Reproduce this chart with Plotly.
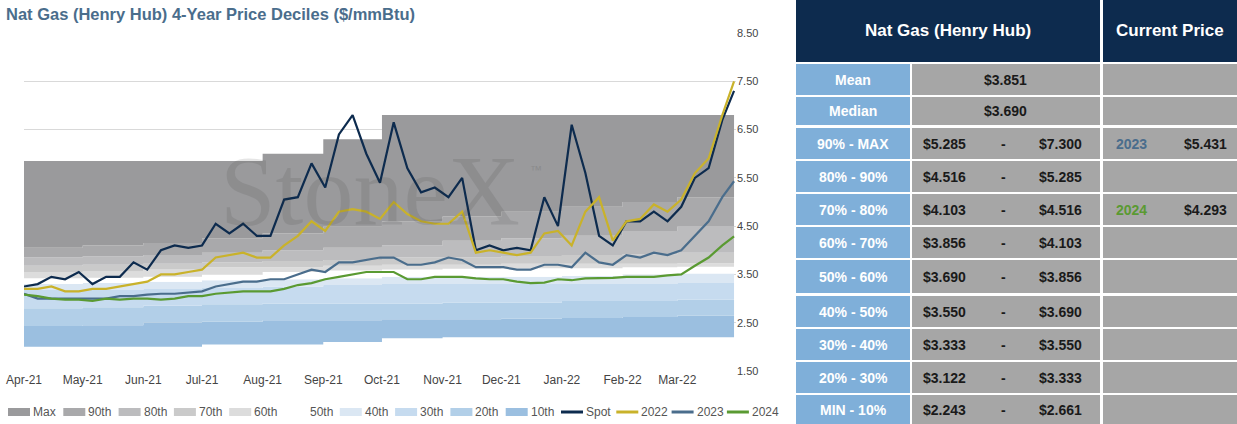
import plotly.graph_objects as go
import pandas as pd

W, H = 1237, 424
weeks = pd.date_range("2021-04-01", periods=52, freq="7D").tolist() + [pd.Timestamp("2022-03-30")]
spot = [3.25,3.3,3.45,3.4,3.55,3.3,3.45,3.45,3.75,3.6,4.0,4.1,4.05,4.1,4.55,4.35,4.55,4.3,4.3,5.05,5.1,5.8,5.3,6.4,6.8,6.0,5.4,6.65,5.7,5.2,5.3,5.1,5.5,4.0,4.1,4.0,4.05,4.0,5.1,4.5,6.6,5.6,4.3,4.1,4.6,4.6,4.8,4.6,4.9,5.5,5.7,6.7,7.3]
y2022 = [3.2,3.2,3.25,3.15,3.15,3.2,3.2,3.25,3.3,3.35,3.5,3.5,3.55,3.6,3.85,3.9,3.95,3.85,3.85,4.1,4.3,4.6,4.4,4.8,4.85,4.8,4.65,5.0,4.75,4.6,4.55,4.55,4.8,3.95,4.0,3.95,3.9,3.95,4.35,4.4,4.1,4.8,5.1,4.2,4.6,4.65,4.95,4.8,5.05,5.6,5.9,6.8,7.5]
y2023 = [3.1,3.0,3.0,3.0,3.0,3.0,3.0,3.05,3.05,3.08,3.1,3.1,3.12,3.15,3.25,3.3,3.35,3.35,3.4,3.4,3.5,3.6,3.55,3.75,3.75,3.8,3.85,3.85,3.7,3.7,3.75,3.85,3.8,3.65,3.65,3.65,3.6,3.6,3.7,3.7,3.65,3.95,3.75,3.7,3.9,3.85,3.95,3.9,4.0,4.3,4.6,5.1,5.43]
y2024 = [3.08,3.05,3.0,2.98,2.98,2.95,3.0,2.98,3.0,3.0,2.98,3.0,3.05,3.05,3.1,3.12,3.15,3.15,3.15,3.2,3.28,3.32,3.4,3.45,3.5,3.55,3.55,3.55,3.4,3.4,3.45,3.45,3.45,3.42,3.4,3.4,3.35,3.32,3.33,3.4,3.38,3.42,3.42,3.43,3.45,3.45,3.45,3.48,3.5,3.68,3.85,4.1,4.29]

band_dates = pd.date_range("2021-04-01", periods=12, freq="MS").tolist() + [pd.Timestamp("2022-03-30")]
b_min = [2.0,2.0,2.0,2.05,2.05,2.1,2.18,2.2,2.2,2.2,2.2,2.2,2.25]
b_p10 = [2.43,2.45,2.5,2.52,2.55,2.55,2.57,2.57,2.58,2.6,2.62,2.65,2.65]
b_p20 = [2.8,2.82,2.85,2.88,2.9,2.9,2.9,2.92,2.92,2.95,2.95,2.98,3.0]
b_p30 = [3.18,3.18,3.2,3.22,3.25,3.28,3.3,3.3,3.3,3.3,3.3,3.32,3.33]
b_p40 = [3.3,3.32,3.35,3.38,3.4,3.42,3.45,3.45,3.45,3.47,3.5,3.52,3.52]
b_p50 = [3.42,3.43,3.45,3.5,3.55,3.58,3.6,3.62,3.63,3.63,3.65,3.66,3.68]
b_p60 = [3.55,3.56,3.6,3.65,3.65,3.68,3.7,3.7,3.72,3.72,3.72,3.73,3.75]
b_p70 = [3.68,3.7,3.72,3.75,3.78,3.8,3.85,3.85,3.88,3.9,3.92,3.95,4.0]
b_p80 = [3.85,3.87,3.9,3.95,4.0,4.05,4.1,4.2,4.25,4.3,4.4,4.5,4.6]
b_p90 = [4.05,4.1,4.15,4.25,4.35,4.5,4.6,4.7,4.8,4.9,5.0,5.1,5.25]
b_max = [5.85,5.85,5.85,5.85,6.0,6.3,6.8,6.8,6.8,6.8,6.8,6.8,6.8]

bands = [("10th", b_p10, "#9bbfe0"), ("20th", b_p20, "#b2cfe8"), ("30th", b_p30, "#c6dbef"),
         ("40th", b_p40, "#dbe7f3"), ("50th", b_p50, "#ffffff"), ("60th", b_p60, "#dcdcdc"),
         ("70th", b_p70, "#cacaca"), ("80th", b_p80, "#bcbcbe"), ("90th", b_p90, "#a9a9ab"),
         ("Max", b_max, "#9a9a9c")]
series = [("Spot", spot, "#0d2b4e"), ("2022", y2022, "#c9b22a"), ("2023", y2023, "#4a6d8c"), ("2024", y2024, "#5a9a32")]

table_labels = ["Mean","Median","90% - MAX","80% - 90%","70% - 80%","60% - 70%","50% - 60%","40% - 50%","30% - 40%","20% - 30%","MIN - 10%"]
table_lo = ["$3.851","$3.690","$5.285","$4.516","$4.103","$3.856","$3.690","$3.550","$3.333","$3.122","$2.243"]
table_hi = [None,None,"$7.300","$5.285","$4.516","$4.103","$3.856","$3.690","$3.550","$3.333","$2.661"]
cur_year = {2: ("2023", "$5.431", "#4a6d8c"), 4: ("2024", "$4.293", "#5a9a32")}

fig = go.Figure()
fig.add_trace(go.Scatter(x=band_dates, y=b_min, mode="lines", line=dict(width=0, shape="hv"),
                         showlegend=False, hoverinfo="skip"))
for name, vals, col in bands:
    fig.add_trace(go.Scatter(x=band_dates, y=vals, name=name, mode="lines", fill="tonexty",
                             fillcolor=col, line=dict(width=0, shape="hv"), showlegend=False))
for name, vals, col in series:
    fig.add_trace(go.Scatter(x=weeks, y=vals, name=name, mode="lines", line=dict(color=col, width=2.2),
                             showlegend=False))

def px(x): return x / W
def py(y): return 1 - y / H

shapes, ann = [], []
shapes.append(dict(type="rect", xref="paper", yref="paper", x0=px(796), x1=px(1100), y0=py(62), y1=py(0),
                   fillcolor="#0d2b4e", line_width=0, layer="below"))
shapes.append(dict(type="rect", xref="paper", yref="paper", x0=px(1103), x1=px(1237), y0=py(62), y1=py(0),
                   fillcolor="#0d2b4e", line_width=0, layer="below"))
ann.append(dict(x=px(948), y=py(31), text="<b>Nat Gas (Henry Hub)</b>", font=dict(size=17, color="white")))
ann.append(dict(x=px(1170), y=py(31), text="<b>Current Price</b>", font=dict(size=17, color="white")))
tops = [64, 97, 128, 161, 194, 227, 260, 296, 329, 362, 395]
bots = [95, 125, 159, 192, 225, 258, 293, 327, 360, 393, 424]
for i, lab in enumerate(table_labels):
    t, b = tops[i], bots[i]
    ym = py((t + b) / 2)
    for x0, x1, c in [(796, 910, "#7fafd9"), (912, 1100, "#a6a6a6"), (1103, 1237, "#a6a6a6")]:
        shapes.append(dict(type="rect", xref="paper", yref="paper", x0=px(x0), x1=px(x1), y0=py(b), y1=py(t),
                           fillcolor=c, line_width=0, layer="below"))
    ann.append(dict(x=px(853), y=ym, text=f"<b>{lab}</b>", font=dict(size=14, color="white")))
    if table_hi[i] is None:
        ann.append(dict(x=px(1005), y=ym, text=f"<b>{table_lo[i]}</b>", font=dict(size=14, color="#1a1a1a")))
    else:
        ann.append(dict(x=px(945), y=ym, text=f"<b>{table_lo[i]}</b>", font=dict(size=14, color="#1a1a1a")))
        ann.append(dict(x=px(1003), y=ym, text="<b>-</b>", font=dict(size=14, color="#1a1a1a")))
        ann.append(dict(x=px(1060), y=ym, text=f"<b>{table_hi[i]}</b>", font=dict(size=14, color="#1a1a1a")))
    if i in cur_year:
        yr, pr, col = cur_year[i]
        ann.append(dict(x=px(1131), y=ym, text=f"<b>{yr}</b>", font=dict(size=14, color=col)))
        ann.append(dict(x=px(1205), y=ym, text=f"<b>{pr}</b>", font=dict(size=14, color="#1a1a1a")))
for a in ann:
    a.update(xref="paper", yref="paper", showarrow=False, xanchor="center", yanchor="middle")
    a["font"]["family"] = "Liberation Sans, Arial, sans-serif"

# manual legend: bands (Max first) then lines
leg_items = [(n, c, "band") for n, _, c in reversed(bands)] + [(n, c, "line") for n, _, c in series]
ly = py(412)
for k, (name, col, kind) in enumerate(leg_items):
    x0 = 8 + 55.3 * k
    if kind == "band":
        shapes.append(dict(type="rect", xref="paper", yref="paper", x0=px(x0), x1=px(x0 + 22),
                           y0=py(416), y1=py(408), fillcolor=col, line_width=0))
    else:
        shapes.append(dict(type="line", xref="paper", yref="paper", x0=px(x0), x1=px(x0 + 22),
                           y0=ly, y1=ly, line=dict(color=col, width=3)))
    ann.append(dict(xref="paper", yref="paper", x=px(x0 + 23), y=ly, xanchor="left", yanchor="middle",
                    showarrow=False, text=name, font=dict(size=12, color="#555555")))

ann.append(dict(xref="paper", yref="paper", x=px(4), y=py(14), xanchor="left", yanchor="middle", showarrow=False,
                text="<b>Nat Gas (Henry Hub) 4-Year Price Deciles ($/mmBtu)</b>",
                font=dict(size=16.5, color="#4a6d8c", family="Liberation Sans Narrow, Arial Narrow, sans-serif")))
ann.append(dict(xref="paper", yref="paper", x=px(370), y=py(190), xanchor="center", yanchor="middle", showarrow=False,
                text="StoneX", opacity=0.12,
                font=dict(size=100, color="#333333", family="Liberation Serif, serif")))
ann.append(dict(xref="paper", yref="paper", x=px(536), y=py(170), showarrow=False, text="™", opacity=0.15,
                font=dict(size=12, color="#333333")))

fig.update_layout(
    width=W, height=H, margin=dict(l=0, r=0, t=0, b=0, autoexpand=False),
    paper_bgcolor="white", plot_bgcolor="white", showlegend=False,
    font=dict(family="Liberation Sans Narrow, Arial Narrow, sans-serif", size=12, color="#444444"),
    shapes=shapes, annotations=ann,
    xaxis=dict(domain=[px(24), px(736)], type="date", range=["2021-04-01", "2022-03-31"], automargin=False,
               tickvals=pd.date_range("2021-04-01", periods=12, freq="MS"), tickformat="%b-%y",
               showgrid=False, ticks="", tickfont=dict(size=12, color="#444444")),
    yaxis=dict(domain=[py(371), py(33)], range=[1.5, 8.5], side="right", automargin=False,
               tickvals=[1.5,2.5,3.5,4.5,5.5,6.5,7.5,8.5],
               tickformat=".2f", gridcolor="#d9d9d9", zeroline=False, tickfont=dict(size=11, color="#444444")),
)
fig.write_html("out.html", config={"displayModeBar": False},
               post_script="document.body.style.margin='0';document.body.style.overflow='hidden';")
